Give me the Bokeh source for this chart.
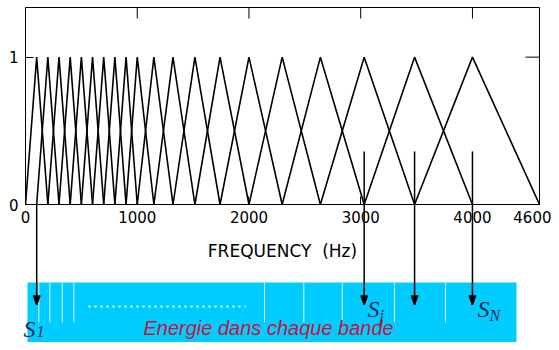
from bokeh.plotting import figure
from bokeh.models import LinearAxis, FixedTicker, Range1d
from bokeh.core.properties import value
from bokeh.embed import file_html
from bokeh.resources import INLINE

# ---------------- data ----------------
center_hz = [100, 200, 300, 400, 500, 600, 700, 800, 900, 1000,
             1149, 1320, 1516, 1741, 2000, 2297, 2639, 3031, 3482, 4000]
low_edge_hz = 0
high_edge_hz = 4600
x_ticks = [0, 1000, 2000, 3000, 4000, 4600]
top_ticks = [1000, 2000, 3000, 4000]
right_ticks = [1]
y_ticks = [0, 1]
x_label = "FREQUENCY\u00a0\u00a0(Hz)"
arrow_filter_idx = [0, 17, 18, 19]
arrow_top = [0.0, 0.36, 0.36, 0.36]
sep_hz = [119, 218, 329, 433, 2139, 2491, 2835, 3302, 3759]
band_title = "Energie dans chaque bande"

Y_MAX = 1.337
PX_X = 0.11174   # pixels per Hz
PX_Y = 147.3     # pixels per unit

# ---------------- figure ----------------
p = figure(width=551, height=342, x_range=Range1d(0, 4600), y_range=Range1d(0, Y_MAX),
           output_backend="svg", toolbar_location=None,
           x_axis_location=None, y_axis_location=None,
           min_border_left=25, min_border_right=12, min_border_top=7, min_border_bottom=138)
p.grid.visible = False
p.background_fill_color = "white"
p.border_fill_color = "white"
p.outline_line_color = "black"
p.outline_line_width = 1


def style_axis(ax):
    ax.axis_line_color = "black"
    ax.major_tick_line_color = "black"
    ax.major_tick_in = 8
    ax.major_tick_out = 0
    ax.minor_tick_line_color = None
    ax.major_label_text_font = "DejaVu Sans"
    ax.major_label_text_font_size = "15px"
    ax.major_label_text_color = "black"


bottom = LinearAxis(ticker=FixedTicker(ticks=x_ticks), axis_label=x_label)
style_axis(bottom)
bottom.major_label_standoff = 6
bottom.axis_label_text_font = "DejaVu Sans"
bottom.axis_label_text_font_size = "17px"
bottom.axis_label_text_font_style = "normal"
bottom.axis_label_text_color = "black"
bottom.axis_label_standoff = 15
p.add_layout(bottom, "below")

left = LinearAxis(ticker=FixedTicker(ticks=y_ticks))
style_axis(left)
left.major_label_standoff = 7
p.add_layout(left, "left")

# inward ticks on the top and right frame edges
tick_len_y = 11 / PX_Y
tick_len_x = 14 / PX_X
p.segment(x0=top_ticks, y0=[Y_MAX] * len(top_ticks), x1=top_ticks,
          y1=[Y_MAX - tick_len_y] * len(top_ticks), line_color="black", line_width=1)
p.segment(x0=[high_edge_hz] * len(right_ticks), y0=right_ticks,
          x1=[high_edge_hz - tick_len_x] * len(right_ticks), y1=right_ticks,
          line_color="black", line_width=1)

# triangular filters
edges = [low_edge_hz] + center_hz + [high_edge_hz]
xs = [[edges[i], edges[i + 1], edges[i + 2]] for i in range(len(center_hz))]
ys = [[0, 1, 0] for _ in center_hz]
p.multi_line(xs, ys, line_color="black", line_width=1.6)

# ---------------- lower schematic ----------------
p.quad(left=[18], right=[4394], top=[-0.53], bottom=[-1.2],
       fill_color="#00CCFF", line_color=None, level="guide")
p.segment(x0=sep_hz, y0=[-0.53] * len(sep_hz), x1=sep_hz, y1=[-0.80] * len(sep_hz),
          line_color="white", line_width=1, line_alpha=0.85, level="guide")
p.segment(x0=[564], y0=[-0.692], x1=[1969], y1=[-0.692],
          line_color="white", line_width=2, line_dash="2 4", level="guide")

# arrows: shaft + filled head (drawn as a fan of strokes)
arrow_x = [center_hz[i] for i in arrow_filter_idx]
tip_y = -0.679
p.segment(x0=arrow_x, y0=arrow_top, x1=arrow_x, y1=[tip_y + 4 / PX_Y] * len(arrow_x),
          line_color="black", line_width=1.5, level="overlay")
head_h = 9 / PX_Y
offsets_px = [k * 0.5 for k in range(-7, 8)]
fx0, fy0, fx1, fy1 = [], [], [], []
for x in arrow_x:
    for o in offsets_px:
        fx0.append(x + o / PX_X)
        fy0.append(tip_y + head_h)
        fx1.append(x)
        fy1.append(tip_y)
p.segment(x0=fx0, y0=fy0, x1=fx1, y1=fy1, line_color="black", line_width=1.2,
          level="overlay")

s_color = "#1b2a4e"
serif = value("Liberation Serif")
p.text(x=[-18, 3061, 4045], y=[-0.842, -0.706, -0.706], text=["S", "S", "S"],
       text_font=serif, text_font_style="italic",
       text_font_size=value("24px"), text_color=s_color,
       text_baseline="alphabetic", text_align="left", level="overlay")
p.text(x=[98, 3168, 4152], y=[-0.865, -0.754, -0.754], text=["1", "j", "N"],
       text_font=serif, text_font_style="italic",
       text_font_size=value("16px"), text_color=s_color,
       text_baseline="alphabetic", text_align="left", level="overlay")
p.text(x=[1056], y=[-0.835], text=[band_title],
       text_font=value("Liberation Sans"), text_font_style="italic",
       text_font_size=value("20px"), text_color="#c8143c",
       text_baseline="alphabetic", text_align="left", level="overlay")

open("out.html", "w").write(file_html(p, INLINE))
